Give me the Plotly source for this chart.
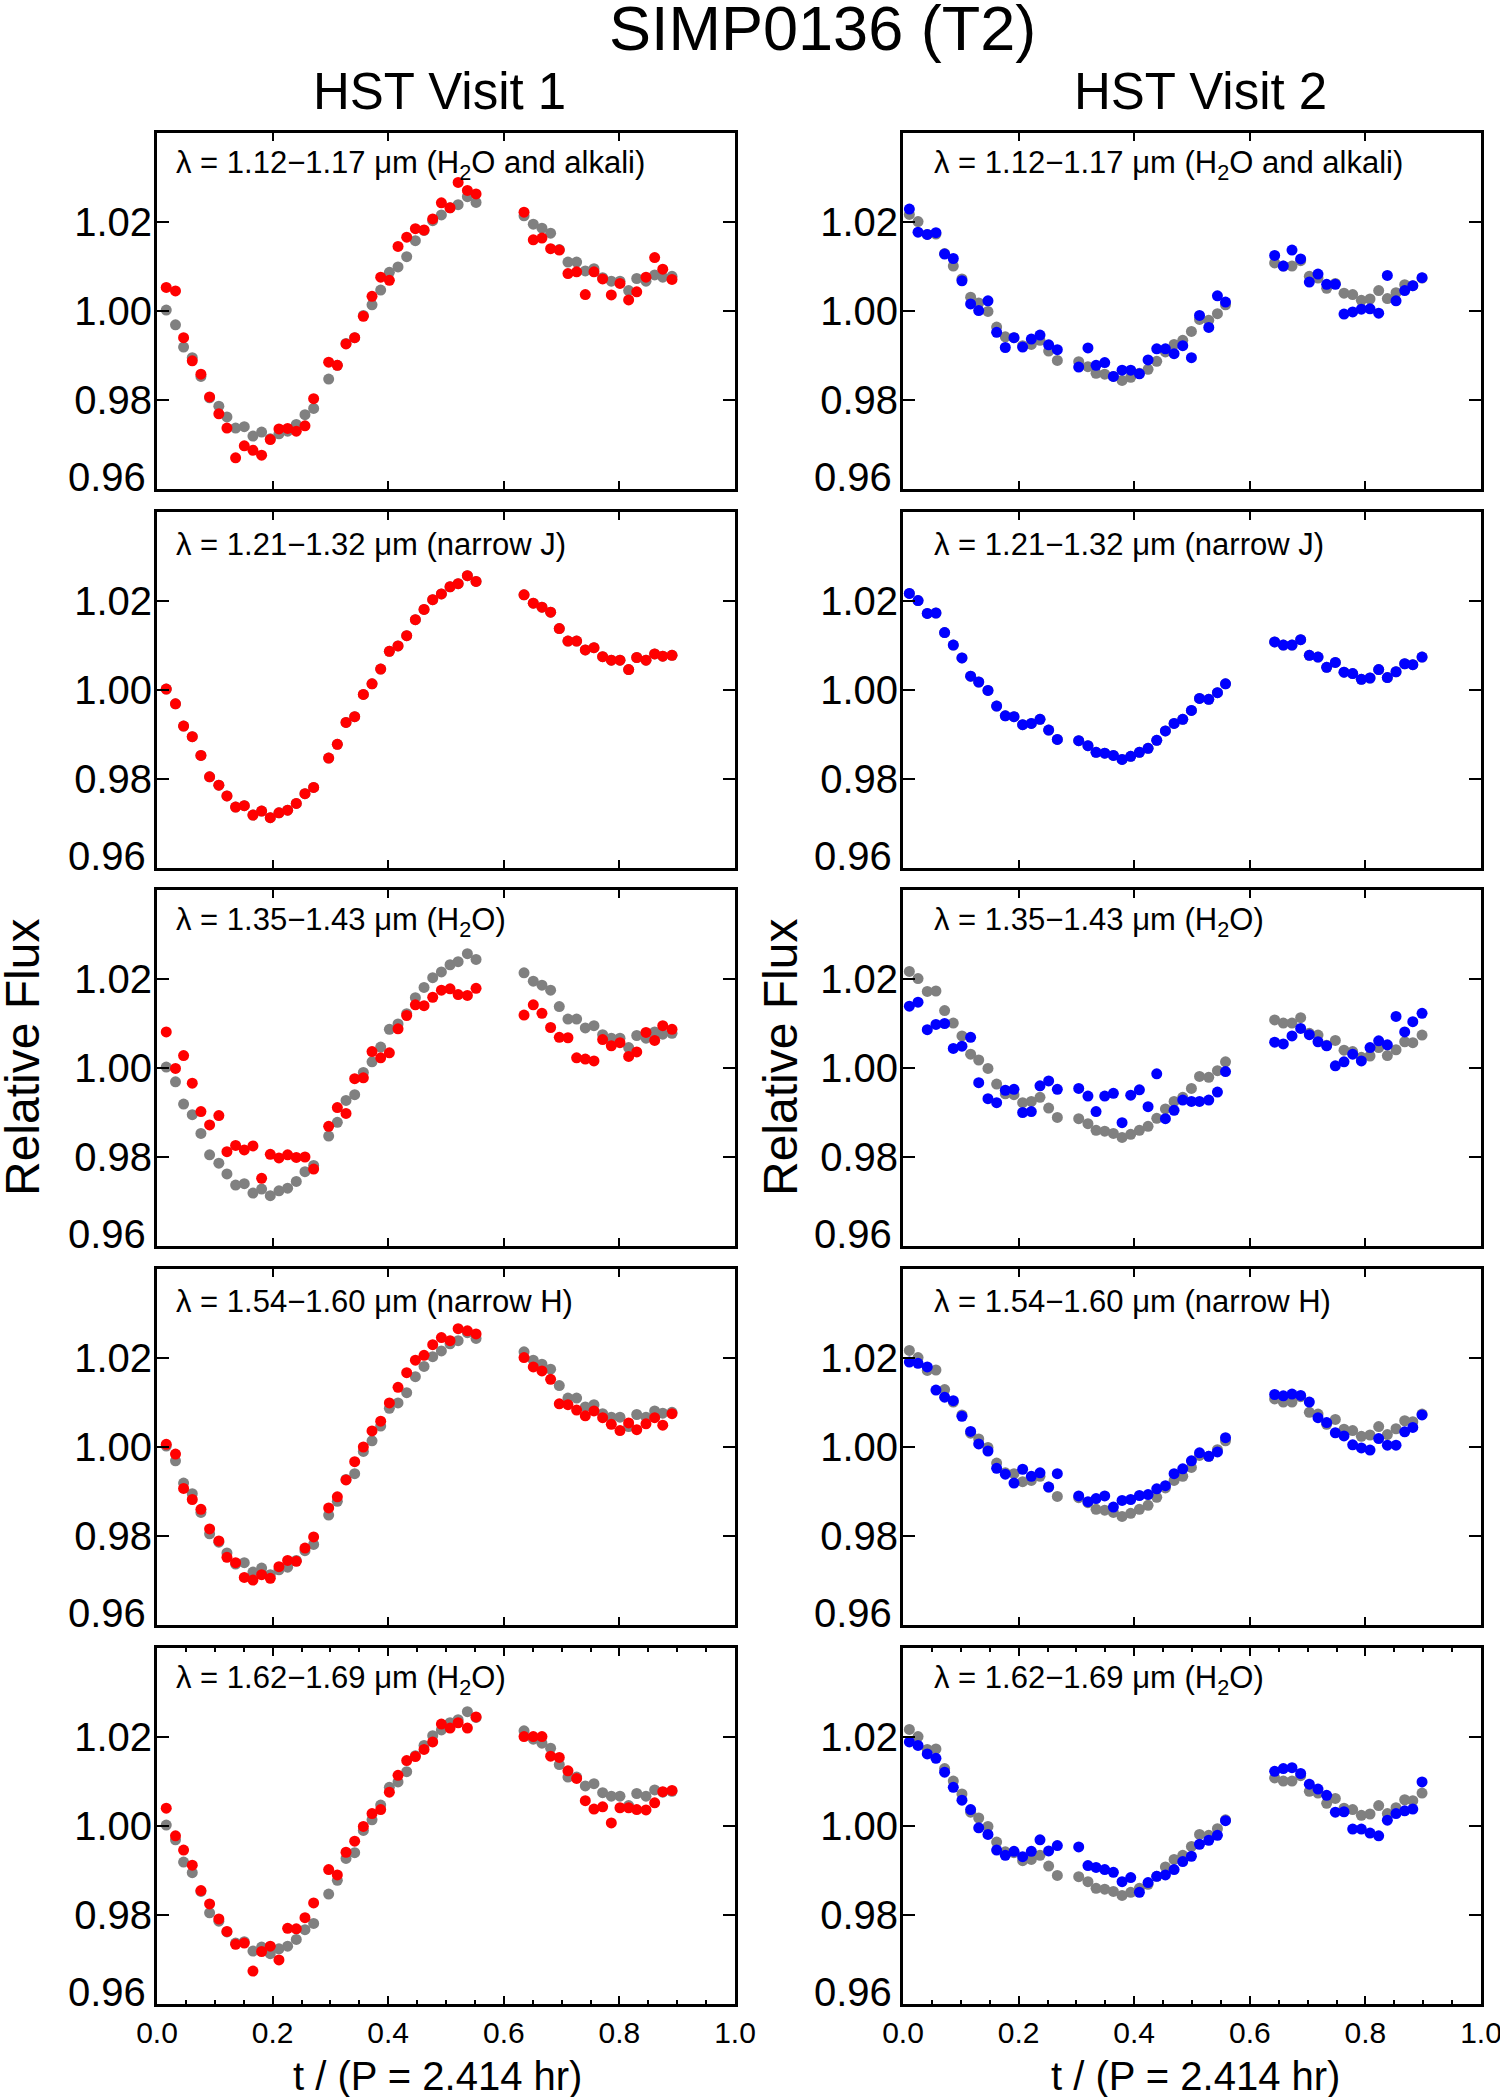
import plotly.graph_objects as go
from plotly.subplots import make_subplots

# phase of each exposure, t / P
t_v1 = [0.016, 0.032, 0.046, 0.061, 0.076, 0.091, 0.107, 0.121, 0.136, 0.151, 0.166, 0.181, 0.196, 0.211, 0.226, 0.241, 0.256, 0.271,
        0.297, 0.312, 0.327, 0.342, 0.357, 0.372, 0.387, 0.402, 0.417, 0.432, 0.447, 0.462, 0.477, 0.492, 0.507, 0.521, 0.537, 0.552,
        0.635, 0.651, 0.666, 0.681, 0.696, 0.711, 0.726, 0.741, 0.756, 0.771, 0.786, 0.801, 0.816, 0.830, 0.846, 0.861, 0.875, 0.891]
t_v2 = [0.011, 0.026, 0.042, 0.057, 0.072, 0.087, 0.102, 0.117, 0.131, 0.147, 0.162, 0.177, 0.192, 0.207, 0.222, 0.237, 0.252, 0.267,
        0.304, 0.320, 0.334, 0.349, 0.364, 0.379, 0.394, 0.409, 0.424, 0.439, 0.454, 0.469, 0.484, 0.499, 0.513, 0.529, 0.544, 0.558,
        0.643, 0.658, 0.673, 0.688, 0.703, 0.718, 0.733, 0.748, 0.763, 0.778, 0.793, 0.808, 0.823, 0.838, 0.853, 0.868, 0.882, 0.898]

# broadband light curve (grey points, same in every panel of a visit)
white_v1 = [1.0002, 0.9969, 0.9919, 0.9895, 0.9853, 0.9805, 0.9786, 0.9762, 0.9737, 0.9740, 0.9719, 0.9728, 0.9713, 0.9724, 0.9730, 0.9745, 0.9767, 0.9781,
            0.9847, 0.9878, 0.9927, 0.9940, 0.9990, 1.0014, 1.0047, 1.0087, 1.0099, 1.0122, 1.0158, 1.0181, 1.0203, 1.0216, 1.0232, 1.0239, 1.0257, 1.0244,
            1.0214, 1.0195, 1.0186, 1.0175, 1.0138, 1.0110, 1.0110, 1.0090, 1.0095, 1.0075, 1.0067, 1.0067, 1.0046, 1.0073, 1.0067, 1.0081, 1.0076, 1.0078]
white_v2 = [1.0217, 1.0201, 1.0172, 1.0173, 1.0129, 1.0101, 1.0072, 1.0031, 1.0018, 0.9999, 0.9964, 0.9942, 0.9940, 0.9922, 0.9925, 0.9934, 0.9910, 0.9889,
            0.9886, 0.9875, 0.9860, 0.9858, 0.9853, 0.9844, 0.9851, 0.9860, 0.9869, 0.9887, 0.9908, 0.9925, 0.9934, 0.9954, 0.9981, 0.9979, 0.9994, 1.0014,
            1.0108, 1.0101, 1.0101, 1.0113, 1.0078, 1.0074, 1.0051, 1.0062, 1.0040, 1.0037, 1.0024, 1.0027, 1.0046, 1.0028, 1.0041, 1.0059, 1.0057, 1.0074]

# visit 1 band light curves (red)
v1_h2o_alkali = [1.0053, 1.0045, 0.9940, 0.9888, 0.9858, 0.9807, 0.9769, 0.9737, 0.9670, 0.9697, 0.9687, 0.9676, 0.9711, 0.9735, 0.9736, 0.9730, 0.9742, 0.9803,
                 0.9885, 0.9878, 0.9926, 0.9940, 0.9988, 1.0033, 1.0076, 1.0069, 1.0145, 1.0166, 1.0185, 1.0182, 1.0207, 1.0243, 1.0232, 1.0289, 1.0271, 1.0263,
                 1.0222, 1.0160, 1.0164, 1.0140, 1.0137, 1.0084, 1.0088, 1.0037, 1.0088, 1.0072, 1.0036, 1.0062, 1.0025, 1.0043, 1.0076, 1.0120, 1.0094, 1.0071]
v1_narrow_j = white_v1
v1_h2o_14 = [1.0081, 0.9999, 1.0028, 0.9966, 0.9902, 0.9872, 0.9893, 0.9812, 0.9826, 0.9816, 0.9825, 0.9752, 0.9806, 0.9798, 0.9805, 0.9799, 0.9800, 0.9773,
             0.9869, 0.9911, 0.9898, 0.9976, 0.9978, 1.0037, 1.0023, 1.0034, 1.0088, 1.0118, 1.0142, 1.0140, 1.0159, 1.0175, 1.0178, 1.0165, 1.0163, 1.0179,
             1.0119, 1.0142, 1.0123, 1.0091, 1.0069, 1.0068, 1.0023, 1.0020, 1.0016, 1.0064, 1.0050, 1.0057, 1.0026, 1.0036, 1.0080, 1.0062, 1.0095, 1.0087]
v1_narrow_h = [1.0006, 0.9984, 0.9907, 0.9882, 0.9860, 0.9816, 0.9789, 0.9752, 0.9740, 0.9707, 0.9701, 0.9713, 0.9705, 0.9731, 0.9745, 0.9743, 0.9773, 0.9798,
               0.9863, 0.9888, 0.9926, 0.9967, 1.0000, 1.0036, 1.0058, 1.0099, 1.0134, 1.0167, 1.0195, 1.0206, 1.0230, 1.0246, 1.0239, 1.0266, 1.0261, 1.0254,
               1.0201, 1.0180, 1.0171, 1.0152, 1.0097, 1.0095, 1.0083, 1.0070, 1.0081, 1.0066, 1.0051, 1.0037, 1.0054, 1.0039, 1.0052, 1.0066, 1.0049, 1.0075]
v1_h2o_16 = [1.0040, 0.9978, 0.9946, 0.9912, 0.9855, 0.9825, 0.9791, 0.9763, 0.9734, 0.9737, 0.9674, 0.9718, 0.9730, 0.9699, 0.9770, 0.9769, 0.9794, 0.9827,
             0.9902, 0.9890, 0.9941, 0.9966, 0.9999, 1.0028, 1.0037, 1.0076, 1.0114, 1.0147, 1.0156, 1.0172, 1.0189, 1.0229, 1.0220, 1.0232, 1.0220, 1.0245,
             1.0201, 1.0201, 1.0201, 1.0157, 1.0154, 1.0124, 1.0107, 1.0057, 1.0038, 1.0043, 1.0007, 1.0041, 1.0041, 1.0037, 1.0036, 1.0052, 1.0077, 1.0080]

# visit 2 band light curves (blue)
v2_h2o_alkali = [1.0229, 1.0177, 1.0172, 1.0176, 1.0128, 1.0118, 1.0068, 1.0016, 1.0001, 1.0023, 0.9952, 0.9918, 0.9940, 0.9919, 0.9937, 0.9946, 0.9924, 0.9913,
                 0.9874, 0.9917, 0.9878, 0.9884, 0.9853, 0.9867, 0.9867, 0.9859, 0.9890, 0.9915, 0.9915, 0.9904, 0.9922, 0.9895, 0.9990, 0.9963, 1.0034, 1.0020,
                 1.0125, 1.0101, 1.0137, 1.0117, 1.0065, 1.0083, 1.0060, 1.0060, 0.9993, 0.9998, 1.0004, 1.0005, 0.9995, 1.0080, 1.0023, 1.0046, 1.0057, 1.0075]
v2_narrow_j = white_v2
v2_h2o_14 = [1.0139, 1.0148, 1.0086, 1.0098, 1.0100, 1.0044, 1.0049, 1.0069, 0.9967, 0.9931, 0.9922, 0.9950, 0.9952, 0.9900, 0.9902, 0.9960, 0.9971, 0.9952,
             0.9954, 0.9937, 0.9902, 0.9937, 0.9943, 0.9877, 0.9939, 0.9951, 0.9913, 0.9987, 0.9886, 0.9905, 0.9928, 0.9925, 0.9925, 0.9928, 0.9946, 0.9992,
             1.0058, 1.0054, 1.0072, 1.0089, 1.0075, 1.0059, 1.0050, 1.0005, 1.0014, 1.0031, 1.0016, 1.0046, 1.0061, 1.0052, 1.0116, 1.0081, 1.0104, 1.0123]
v2_narrow_h = [1.0191, 1.0188, 1.0180, 1.0128, 1.0112, 1.0104, 1.0069, 1.0035, 1.0007, 0.9991, 0.9952, 0.9939, 0.9919, 0.9950, 0.9934, 0.9942, 0.9910, 0.9940,
               0.9890, 0.9877, 0.9884, 0.9890, 0.9865, 0.9880, 0.9882, 0.9891, 0.9893, 0.9906, 0.9913, 0.9940, 0.9951, 0.9969, 0.9987, 0.9979, 0.9989, 1.0021,
               1.0118, 1.0115, 1.0119, 1.0116, 1.0101, 1.0066, 1.0055, 1.0032, 1.0025, 1.0005, 0.9998, 0.9993, 1.0019, 1.0004, 1.0004, 1.0034, 1.0044, 1.0072]
v2_h2o_16 = [1.0189, 1.0181, 1.0162, 1.0152, 1.0121, 1.0087, 1.0058, 1.0037, 0.9996, 0.9981, 0.9946, 0.9934, 0.9943, 0.9931, 0.9943, 0.9969, 0.9944, 0.9956,
             0.9953, 0.9911, 0.9907, 0.9902, 0.9896, 0.9875, 0.9884, 0.9851, 0.9873, 0.9887, 0.9890, 0.9902, 0.9920, 0.9932, 0.9959, 0.9968, 0.9979, 1.0012,
             1.0123, 1.0129, 1.0131, 1.0118, 1.0094, 1.0083, 1.0069, 1.0031, 1.0032, 0.9993, 0.9993, 0.9984, 0.9978, 1.0013, 1.0028, 1.0034, 1.0038, 1.0099]

band_labels = ["λ = 1.12−1.17 μm (H<sub>2</sub>O and alkali)",
               "λ = 1.21−1.32 μm (narrow J)",
               "λ = 1.35−1.43 μm (H<sub>2</sub>O)",
               "λ = 1.54−1.60 μm (narrow H)",
               "λ = 1.62−1.69 μm (H<sub>2</sub>O)"]
visit1_bands = [v1_h2o_alkali, v1_narrow_j, v1_h2o_14, v1_narrow_h, v1_h2o_16]
visit2_bands = [v2_h2o_alkali, v2_narrow_j, v2_h2o_14, v2_narrow_h, v2_h2o_16]
visit_titles = ["HST Visit 1", "HST Visit 2"]
flux_ticks = [0.96, 0.98, 1.00, 1.02]
phase_ticks = [0, 0.2, 0.4, 0.6, 0.8, 1.0]

W, H = 1500, 2097
FONT = "Liberation Sans, Arial, Helvetica, sans-serif"


def px(x):
    return x / W


def py(y):
    return 1 - y / H


col_x = [(157, 735), (903, 1481)]  # panel edges in pixels
row_tops = [133, 512, 890, 1269, 1648]
row_h = 356

fig = make_subplots(rows=5, cols=2)

visits = [(t_v1, white_v1, visit1_bands, "#ff0000"), (t_v2, white_v2, visit2_bands, "#0000ff")]
for c, (t, white, bands, color) in enumerate(visits):
    for r in range(5):
        fig.add_trace(go.Scatter(x=t, y=white, mode="markers", showlegend=False,
                                 marker=dict(color="#808080", size=11, line=dict(width=0))),
                      row=r + 1, col=c + 1)
        fig.add_trace(go.Scatter(x=t, y=bands[r], mode="markers", showlegend=False,
                                 marker=dict(color=color, size=11, line=dict(width=0))),
                      row=r + 1, col=c + 1)

for r in range(5):
    for c in range(2):
        n = r * 2 + c + 1
        x0, x1 = col_x[c]
        top = row_tops[r]
        bottom = (r == 4)
        xa = dict(domain=[px(x0), px(x1)], range=[0, 1], tickvals=phase_ticks, tickformat=".1f",
                  ticks="inside", ticklen=8, tickwidth=2, tickcolor="black", automargin=False,
                  showline=True, linewidth=3, linecolor="black", mirror="ticks",
                  showgrid=False, zeroline=False, showticklabels=bottom, ticklabeloverflow="allow",
                  tickfont=dict(size=30, color="black", family=FONT), ticklabelstandoff=0)
        if bottom:
            xa["minor"] = dict(dtick=0.05, tick0=0, ticks="inside", ticklen=4, tickwidth=2,
                               tickcolor="black", showgrid=False)
        # lowest label (0.96) is lifted off the corner below as an annotation
        ya = dict(domain=[py(top + row_h), py(top)], range=[0.96, 1.04], tickvals=flux_ticks,
                  ticktext=[""] + ["%.2f" % v for v in flux_ticks[1:]],
                  ticks="inside", ticklen=12, tickwidth=2, tickcolor="black", automargin=False,
                  showline=True, linewidth=3, linecolor="black", mirror="ticks",
                  showgrid=False, zeroline=False,
                  tickfont=dict(size=40, color="black", family=FONT), ticklabelstandoff=-6)
        key = "" if n == 1 else str(n)
        fig.layout["xaxis" + key].update(xa)
        fig.layout["yaxis" + key].update(ya)

        fig.add_annotation(text="%.2f" % flux_ticks[0], xref="paper", yref="y" + key,
                           x=px(x0 - 9), y=flux_ticks[0], yshift=12,
                           xanchor="right", yanchor="middle", showarrow=False,
                           font=dict(size=40, color="black", family=FONT))

        # band label inside each panel
        fig.add_annotation(text=band_labels[r], xref="paper", yref="paper",
                           x=px(x0 + (17 if c == 0 else 29)), y=py(top + 32),
                           xanchor="left", yanchor="middle", showarrow=False,
                           font=dict(size=31, color="black", family=FONT))

# titles
fig.add_annotation(text="SIMP0136 (T2)", xref="paper", yref="paper", x=px(822), y=py(28),
                   xanchor="center", yanchor="middle", showarrow=False,
                   font=dict(size=63, color="black", family=FONT))
for c, cx in enumerate([439, 1200]):
    fig.add_annotation(text=visit_titles[c], xref="paper", yref="paper", x=px(cx), y=py(92),
                       xanchor="center", yanchor="middle", showarrow=False,
                       font=dict(size=51, color="black", family=FONT))
    fig.add_annotation(text="t / (P = 2.414 hr)", xref="paper", yref="paper",
                       x=px([437, 1195][c]), y=py(2076),
                       xanchor="center", yanchor="middle", showarrow=False,
                       font=dict(size=40, color="black", family=FONT))
    fig.add_annotation(text="Relative Flux", xref="paper", yref="paper",
                       x=px([22, 780][c]), y=py(1058), textangle=-90,
                       xanchor="center", yanchor="middle", showarrow=False,
                       font=dict(size=48, color="black", family=FONT))

fig.update_layout(width=W, height=H, margin=dict(l=0, r=0, t=0, b=0, autoexpand=False),
                  plot_bgcolor="white", paper_bgcolor="white",
                  font=dict(family=FONT, color="black"))

# drop the browser's default page margin so the figure fills the window exactly
fig.write_html("out.html", config={"displayModeBar": False},
               post_script="document.body.style.margin = '0px';")
